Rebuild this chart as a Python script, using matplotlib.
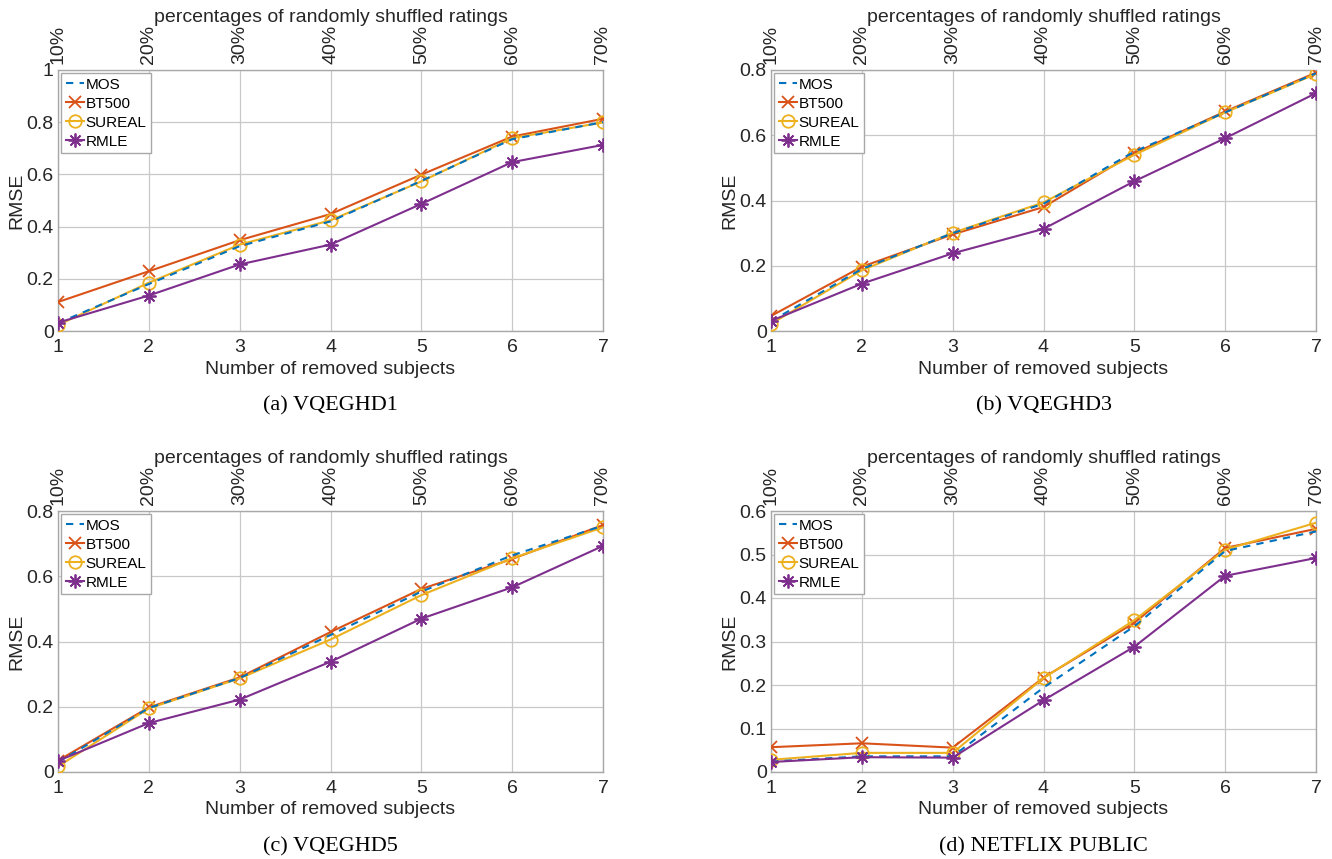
import matplotlib
matplotlib.use("Agg")
import matplotlib.pyplot as plt

removed = [1, 2, 3, 4, 5, 6, 7]
percent_labels = ["10%", "20%", "30%", "40%", "50%", "60%", "70%"]
series_names = ["MOS", "BT500", "SUREAL", "RMLE"]

# (a) VQEGHD1
a_mos = [0.030, 0.180, 0.325, 0.420, 0.575, 0.735, 0.800]
a_bt500 = [0.111, 0.229, 0.348, 0.448, 0.599, 0.745, 0.813]
a_sureal = [0.023, 0.185, 0.331, 0.424, 0.573, 0.739, 0.799]
a_rmle = [0.032, 0.136, 0.255, 0.331, 0.487, 0.647, 0.713]

# (b) VQEGHD3
b_mos = [0.030, 0.190, 0.300, 0.390, 0.550, 0.670, 0.790]
b_bt500 = [0.046, 0.197, 0.296, 0.380, 0.545, 0.673, 0.792]
b_sureal = [0.022, 0.186, 0.301, 0.394, 0.540, 0.670, 0.788]
b_rmle = [0.031, 0.145, 0.238, 0.313, 0.459, 0.591, 0.729]

# (c) VQEGHD5
c_mos = [0.030, 0.196, 0.288, 0.420, 0.553, 0.664, 0.755]
c_bt500 = [0.035, 0.198, 0.290, 0.429, 0.561, 0.653, 0.757]
c_sureal = [0.017, 0.195, 0.287, 0.406, 0.542, 0.655, 0.750]
c_rmle = [0.034, 0.150, 0.222, 0.338, 0.470, 0.566, 0.693]

# (d) NETFLIX PUBLIC
d_mos = [0.024, 0.036, 0.036, 0.194, 0.335, 0.508, 0.553]
d_bt500 = [0.057, 0.066, 0.056, 0.217, 0.343, 0.515, 0.559]
d_sureal = [0.028, 0.044, 0.044, 0.216, 0.349, 0.511, 0.573]
d_rmle = [0.023, 0.034, 0.033, 0.165, 0.288, 0.451, 0.492]

captions = ["(a) VQEGHD1", "(b) VQEGHD3", "(c) VQEGHD5", "(d) NETFLIX PUBLIC"]
yticks_a = [0, 0.2, 0.4, 0.6, 0.8, 1.0]
yticks_b = [0, 0.2, 0.4, 0.6, 0.8]
yticks_c = [0, 0.2, 0.4, 0.6, 0.8]
yticks_d = [0, 0.1, 0.2, 0.3, 0.4, 0.5, 0.6]

panels = [
    (a_mos, a_bt500, a_sureal, a_rmle, yticks_a),
    (b_mos, b_bt500, b_sureal, b_rmle, yticks_b),
    (c_mos, c_bt500, c_sureal, c_rmle, yticks_c),
    (d_mos, d_bt500, d_sureal, d_rmle, yticks_d),
]

plt.rcParams['font.family'] = ['Liberation Sans', 'DejaVu Sans']

W, H = 1332, 859
fig = plt.figure(figsize=(W / 100, H / 100), dpi=100)

lefts = [58, 771, 58, 771]
tops = [70, 70, 511, 511]
aw, ah = 545, 261

colors = {"MOS": "#0072BD", "BT500": "#D95319", "SUREAL": "#EDB120", "RMLE": "#7E2F8E"}
grid_c = "#c8c8c8"
spine_c = "#a8a8a8"
fs = 14

def fmt(v):
    s = ("%.1f" % v)
    if s.endswith(".0"):
        s = s[:-2]
    return s

for i, (mos, bt, su, rm, yt) in enumerate(panels):
    l, t = lefts[i], tops[i]
    ax = fig.add_axes([l / W, 1 - (t + ah) / H, aw / W, ah / H])
    ax.plot(removed, mos, linestyle=(0, (3.5, 3.0)), color=colors["MOS"], lw=1.5, label="MOS", zorder=5)
    ax.plot(removed, bt, color=colors["BT500"], lw=1.5, marker="x", ms=8, mew=1.3, label="BT500", zorder=3)
    ax.plot(removed, su, color=colors["SUREAL"], lw=1.5, marker="o", ms=9, mfc="none", mew=1.3, label="SUREAL", zorder=4)
    ax.plot(removed, rm, color=colors["RMLE"], lw=1.5, marker=(8, 2, 0), ms=10, mew=1.3, label="RMLE", zorder=6)
    ax.set_xlim(1, 7)
    ax.set_ylim(yt[0], yt[-1])
    ax.set_xticks(removed)
    ax.set_xticklabels([str(r) for r in removed], fontsize=fs, color="#262626")
    ax.set_yticks(yt)
    ax.set_yticklabels([fmt(v) for v in yt], fontsize=fs, color="#262626")
    ax.grid(True, color=grid_c, lw=0.9)
    ax.set_axisbelow(True)
    for s in ax.spines.values():
        s.set_color(spine_c)
        s.set_linewidth(1.0)
    ax.tick_params(axis="x", length=0, pad=6)
    ax.tick_params(axis="y", length=0, pad=3)
    ax.set_xlabel("Number of removed subjects", fontsize=fs, color="#262626", labelpad=3)
    ax.set_ylabel("RMSE", fontsize=fs, color="#262626", labelpad=1)
    leg = ax.legend(loc="upper left", fontsize=11, frameon=True, fancybox=False,
                    edgecolor=spine_c, framealpha=1, borderpad=0.3, labelspacing=0.33,
                    handlelength=1.2, handletextpad=0.12, borderaxespad=0.2)
    leg.get_frame().set_linewidth(1.0)

    ax2 = ax.twiny()
    ax2.set_xlim(1, 7)
    ax2.set_xticks(removed)
    ax2.set_xticklabels(percent_labels, rotation=90, fontsize=fs, color="#262626")
    ax2.tick_params(axis="x", length=0, pad=4)
    for s in ax2.spines.values():
        s.set_visible(False)
    ax2.set_xlabel("percentages of randomly shuffled ratings", fontsize=fs, color="#262626", labelpad=2)

    fig.text((l + aw / 2) / W, 1 - (t + 336) / H, captions[i], ha="center", va="center",
             fontsize=16, family=["Liberation Serif", "DejaVu Serif"])

fig.savefig("out.png", dpi=100, facecolor="white")
